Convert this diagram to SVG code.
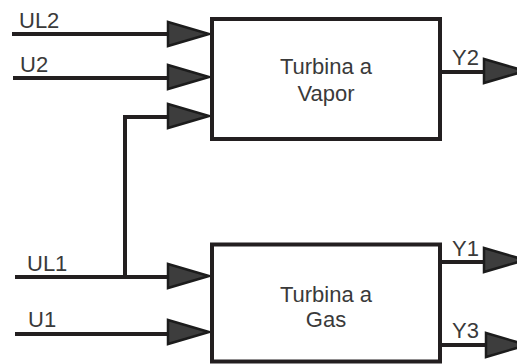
<svg xmlns="http://www.w3.org/2000/svg" xmlns:xlink="http://www.w3.org/1999/xlink" width="517" height="364" viewBox="0 0 517 364">
<style>
.ln{stroke:#231f20;stroke-width:4;fill:none}
.box{stroke:#231f20;stroke-width:4;fill:#fff}
.t{font-family:"Liberation Sans",Arial,sans-serif;font-size:22px;fill:#3a3a3a}
.c{text-anchor:middle}
</style>
<defs>
<polygon id="ah" points="-41,-12 0,0 -41,12" fill="#3d3d3d" stroke="#1c1c1c" stroke-width="2.5" stroke-linejoin="miter"/>
</defs>
<g id="connectors">
<path class="ln" d="M12,34H180"/>
<path class="ln" d="M13,78H180"/>
<path class="ln" d="M125,277V117H180"/>
<path class="ln" d="M15,277H180"/>
<path class="ln" d="M15,334H180"/>
<path class="ln" d="M440,72H495"/>
<path class="ln" d="M440,262H495"/>
<path class="ln" d="M440,345H495"/>
<use xlink:href="#ah" transform="translate(209,34)"/>
<use xlink:href="#ah" transform="translate(209,77)"/>
<use xlink:href="#ah" transform="translate(209,116)"/>
<use xlink:href="#ah" transform="translate(209,276)"/>
<use xlink:href="#ah" transform="translate(209,332)"/>
<use xlink:href="#ah" transform="translate(525,71)"/>
<use xlink:href="#ah" transform="translate(525,260)"/>
<use xlink:href="#ah" transform="translate(527,345)"/>
<text class="t" x="19" y="28">UL2</text>
<text class="t" x="20" y="72">U2</text>
<text class="t" x="27" y="271">UL1</text>
<text class="t" x="28" y="327">U1</text>
<text class="t" x="452" y="65">Y2</text>
<text class="t" x="452" y="256">Y1</text>
<text class="t" x="452" y="338">Y3</text>
</g>
<g id="vapor">
<rect class="box" x="212" y="19" width="228" height="120"/>
<text class="t c" x="326" y="74">Turbina a</text>
<text class="t c" x="326" y="101">Vapor</text>
</g>
<g id="gas">
<rect class="box" x="212" y="244.5" width="228" height="117"/>
<text class="t c" x="326" y="302">Turbina a</text>
<text class="t c" x="326" y="327">Gas</text>
</g>
</svg>
